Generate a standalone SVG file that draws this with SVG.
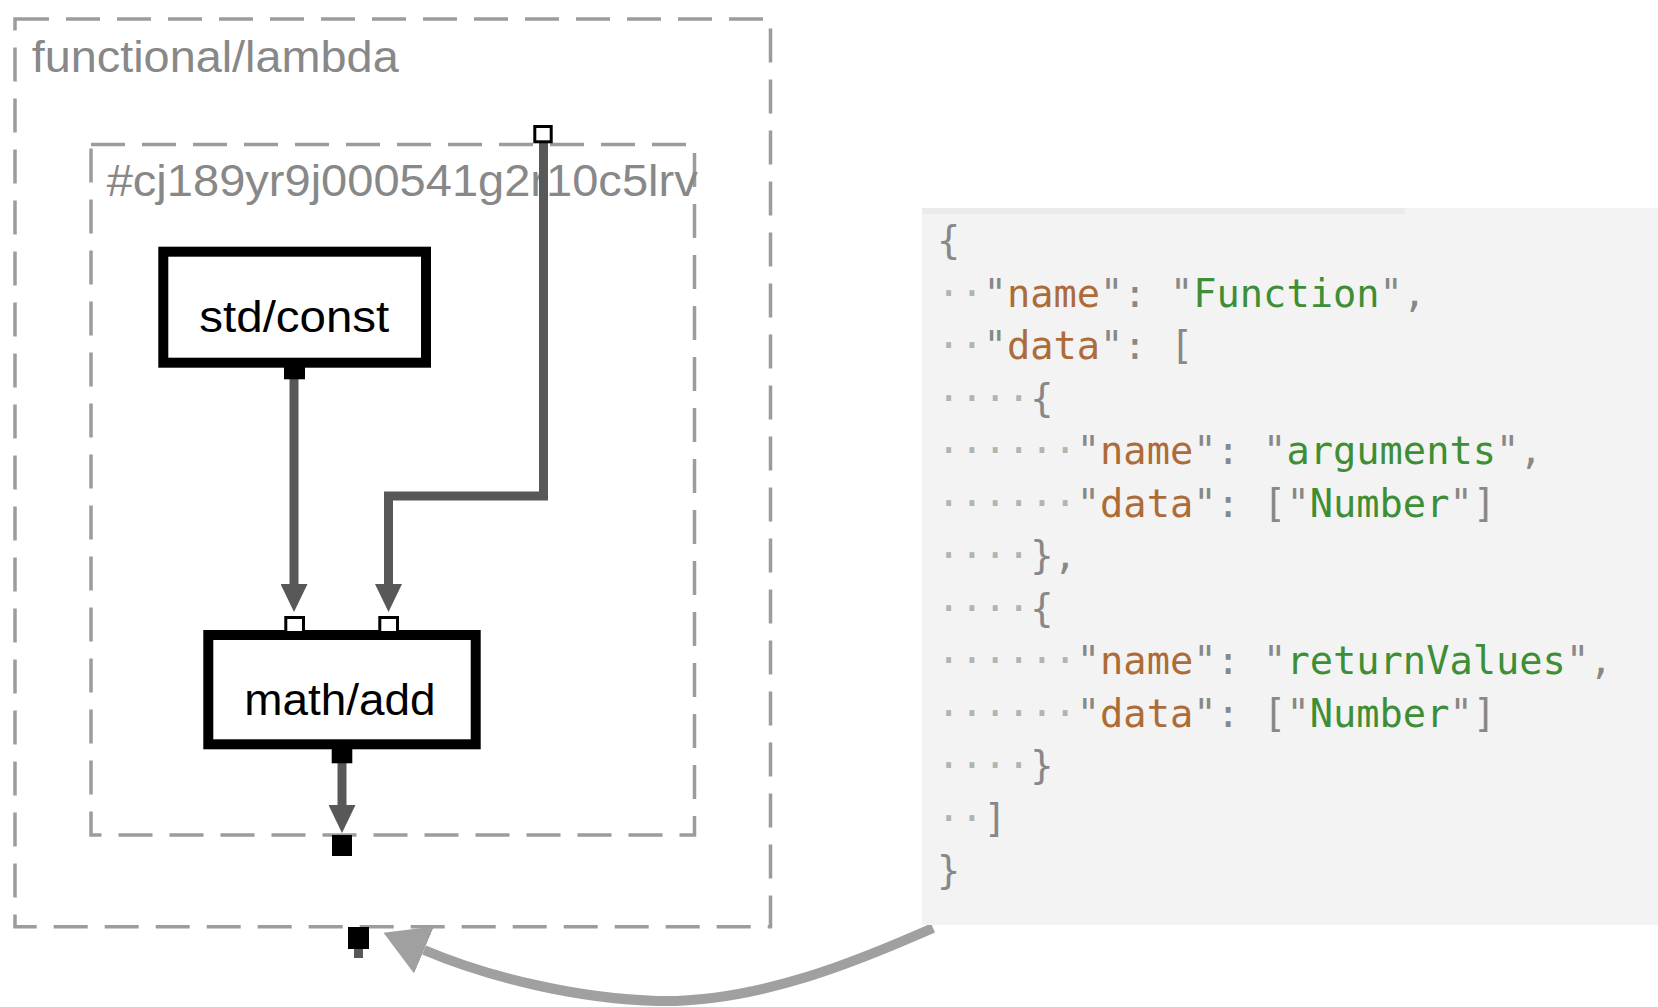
<svg xmlns="http://www.w3.org/2000/svg" width="1658" height="1007" viewBox="0 0 1658 1007">
<defs>
<style>
.grp{fill:none;stroke:#9c9c9c;stroke-width:3.5;stroke-dasharray:34 17}
.glabel{font-family:"Liberation Sans",Arial,sans-serif;font-size:44px;fill:#888}
.node{fill:#fff;stroke:#000;stroke-width:10}
.nlabel{font-family:"Liberation Sans",Arial,sans-serif;font-size:44px;fill:#000}
.pout{fill:#000}
.pin{fill:#fff;stroke:#000;stroke-width:3}
.conn{fill:none;stroke:#585858;stroke-width:9;stroke-linejoin:miter}
.code{font-family:"DejaVu Sans Mono","Liberation Mono",monospace;font-size:38.7px;fill:#888}
.ws{fill:#b3b3b3}
.k{fill:#ad6b38}
.s{fill:#3e8e35}
</style>
<marker id="ah" markerUnits="userSpaceOnUse" markerWidth="28" markerHeight="27" refX="0" refY="13.5" orient="auto" viewBox="0 0 28 27">
<path d="M0,0 L28,13.5 L0,27 z" fill="#585858"/>
</marker>
<marker id="ahc" markerUnits="userSpaceOnUse" markerWidth="44" markerHeight="51" refX="0" refY="25.5" orient="auto" viewBox="0 0 44 51">
<path d="M0,0 L44,25.5 L0,51 z" fill="#a0a0a0"/>
</marker>
</defs>
<rect width="1658" height="1007" fill="#fff"/>

<g id="group-functional-lambda">
<rect class="grp" x="15" y="19" width="755.5" height="907.7"/>
<text class="glabel" x="31.7" y="71.7" textLength="367" lengthAdjust="spacingAndGlyphs">functional/lambda</text>
</g>

<g id="group-cj189yr9j000541g2r10c5lrv">
<rect class="grp" x="91" y="144.5" width="603.5" height="690.5"/>
<text class="glabel" x="106.7" y="196" textLength="591" lengthAdjust="spacingAndGlyphs">#cj189yr9j000541g2r10c5lrv</text>
</g>

<g id="connectors">
<path class="conn" d="M294,379 V584" marker-end="url(#ah)"/>
<path class="conn" d="M543.5,143 V496 H388.5 V584" marker-end="url(#ah)"/>
<path class="conn" d="M342,763 V805" marker-end="url(#ah)"/>
<path class="conn" d="M358.5,949 V958" stroke-width="10"/>
<path d="M933,928 C865,958 760,1003 658,1001 C580,999 490,978 424,950" fill="none" stroke="#a0a0a0" stroke-width="10" marker-end="url(#ahc)"/>
</g>

<g id="node-std-const">
<rect class="node" x="163.3" y="251.7" width="262.7" height="111"/>
<text class="nlabel" x="199.3" y="331.7" textLength="190" lengthAdjust="spacingAndGlyphs">std/const</text>
<rect class="pout" x="284" y="367" width="21" height="12.3"/>
</g>

<g id="node-math-add">
<rect class="node" x="208.3" y="635" width="267.4" height="109.3"/>
<text class="nlabel" x="244.3" y="715" textLength="191.3" lengthAdjust="spacingAndGlyphs">math/add</text>
<rect class="pin" x="285.8" y="617.5" width="17.7" height="15"/>
<rect class="pin" x="379.8" y="617.5" width="17.7" height="15"/>
<rect class="pout" x="331.7" y="749" width="20.6" height="14.3"/>
</g>

<g id="lambda-ports">
<rect class="pin" x="534.8" y="126.5" width="16.4" height="15.3"/>
<rect class="pout" x="332" y="835" width="20" height="21"/>
<rect class="pout" x="348" y="927" width="21" height="22"/>
</g>

<g id="code-panel">
<rect x="922" y="208" width="736" height="717" fill="#f3f3f3"/>
<rect x="922" y="208" width="483" height="6" fill="#ebebeb"/>
<text class="code" x="937" y="254.2" xml:space="preserve">{</text>
<text class="code" x="937" y="306.7" xml:space="preserve"><tspan class="ws">··</tspan>"<tspan class="k">name</tspan>": "<tspan class="s">Function</tspan>",</text>
<text class="code" x="937" y="359.2" xml:space="preserve"><tspan class="ws">··</tspan>"<tspan class="k">data</tspan>": [</text>
<text class="code" x="937" y="411.7" xml:space="preserve"><tspan class="ws">····</tspan>{</text>
<text class="code" x="937" y="464.2" xml:space="preserve"><tspan class="ws">······</tspan>"<tspan class="k">name</tspan>": "<tspan class="s">arguments</tspan>",</text>
<text class="code" x="937" y="516.7" xml:space="preserve"><tspan class="ws">······</tspan>"<tspan class="k">data</tspan>": ["<tspan class="s">Number</tspan>"]</text>
<text class="code" x="937" y="569.2" xml:space="preserve"><tspan class="ws">····</tspan>},</text>
<text class="code" x="937" y="621.7" xml:space="preserve"><tspan class="ws">····</tspan>{</text>
<text class="code" x="937" y="674.2" xml:space="preserve"><tspan class="ws">······</tspan>"<tspan class="k">name</tspan>": "<tspan class="s">returnValues</tspan>",</text>
<text class="code" x="937" y="726.7" xml:space="preserve"><tspan class="ws">······</tspan>"<tspan class="k">data</tspan>": ["<tspan class="s">Number</tspan>"]</text>
<text class="code" x="937" y="779.2" xml:space="preserve"><tspan class="ws">····</tspan>}</text>
<text class="code" x="937" y="831.7" xml:space="preserve"><tspan class="ws">··</tspan>]</text>
<text class="code" x="937" y="884.2" xml:space="preserve">}</text>
</g>
</svg>
